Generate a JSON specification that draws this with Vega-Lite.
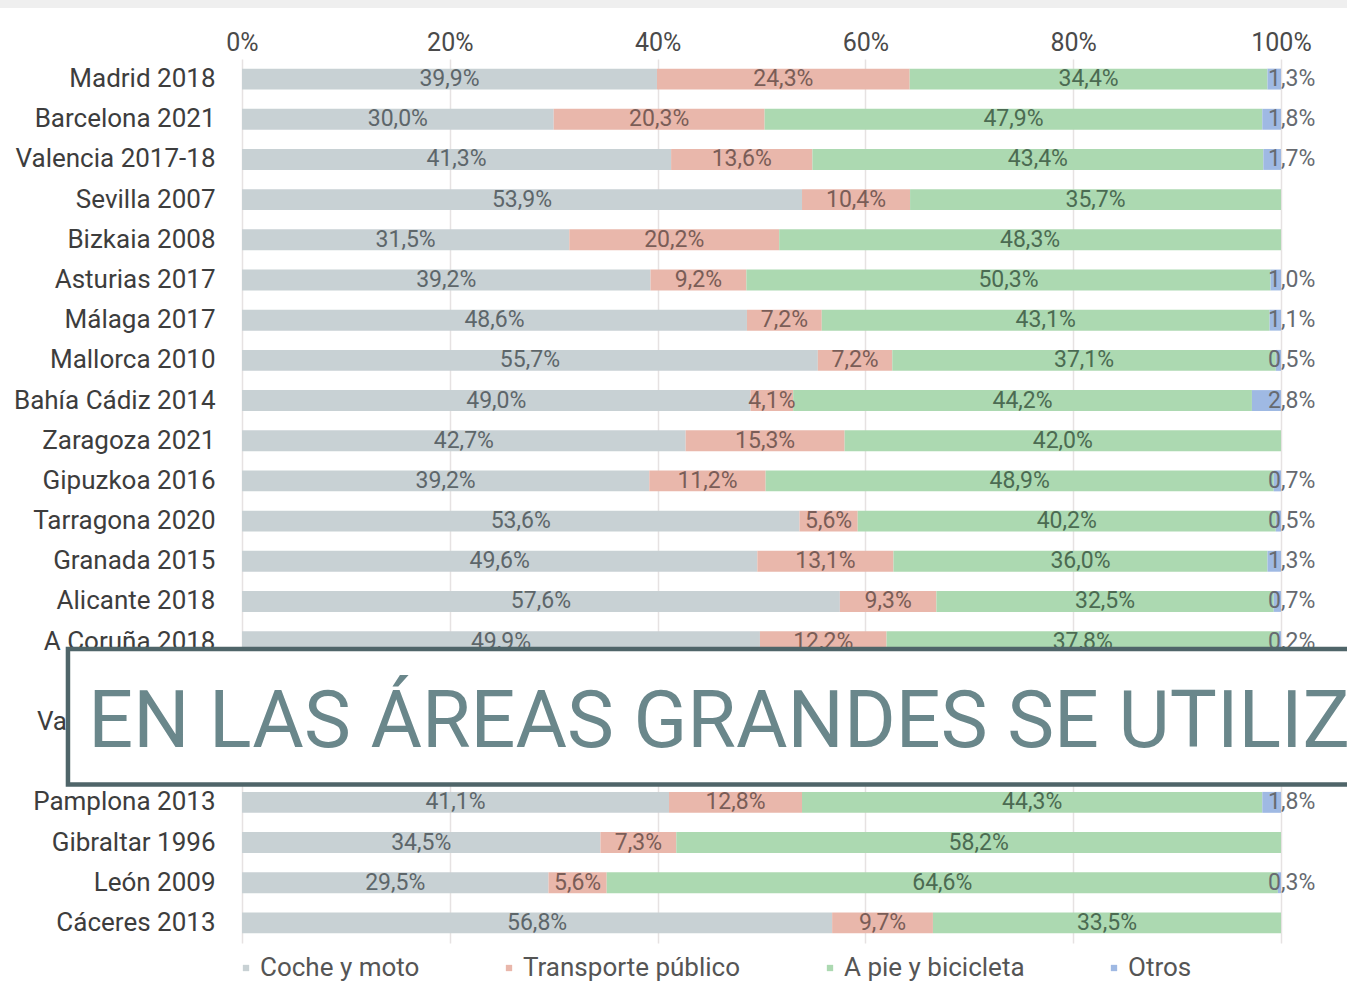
{
  "$schema": "https://vega.github.io/schema/vega-lite/v6.json",
  "autosize": "none",
  "width": 1039,
  "height": 884,
  "padding": {"left": 242, "top": 59, "right": 66, "bottom": 38},
  "background": "white",
  "config": {
    "font": "Roboto",
    "view": {"stroke": null},
    "locale": {"number": {"decimal": ",", "thousands": ".", "grouping": [3], "currency": ["", " €"]}}
  },
  "datasets": {
    "viajes": [
      {"ciudad": "Madrid 2018", "modo": "Coche y moto", "orden": 1, "pct": 0.399},
      {"ciudad": "Madrid 2018", "modo": "Transporte público", "orden": 2, "pct": 0.243},
      {"ciudad": "Madrid 2018", "modo": "A pie y bicicleta", "orden": 3, "pct": 0.344},
      {"ciudad": "Madrid 2018", "modo": "Otros", "orden": 4, "pct": 0.013},
      {"ciudad": "Barcelona 2021", "modo": "Coche y moto", "orden": 1, "pct": 0.300},
      {"ciudad": "Barcelona 2021", "modo": "Transporte público", "orden": 2, "pct": 0.203},
      {"ciudad": "Barcelona 2021", "modo": "A pie y bicicleta", "orden": 3, "pct": 0.479},
      {"ciudad": "Barcelona 2021", "modo": "Otros", "orden": 4, "pct": 0.018},
      {"ciudad": "Valencia 2017-18", "modo": "Coche y moto", "orden": 1, "pct": 0.413},
      {"ciudad": "Valencia 2017-18", "modo": "Transporte público", "orden": 2, "pct": 0.136},
      {"ciudad": "Valencia 2017-18", "modo": "A pie y bicicleta", "orden": 3, "pct": 0.434},
      {"ciudad": "Valencia 2017-18", "modo": "Otros", "orden": 4, "pct": 0.017},
      {"ciudad": "Sevilla 2007", "modo": "Coche y moto", "orden": 1, "pct": 0.539},
      {"ciudad": "Sevilla 2007", "modo": "Transporte público", "orden": 2, "pct": 0.104},
      {"ciudad": "Sevilla 2007", "modo": "A pie y bicicleta", "orden": 3, "pct": 0.357},
      {"ciudad": "Bizkaia 2008", "modo": "Coche y moto", "orden": 1, "pct": 0.315},
      {"ciudad": "Bizkaia 2008", "modo": "Transporte público", "orden": 2, "pct": 0.202},
      {"ciudad": "Bizkaia 2008", "modo": "A pie y bicicleta", "orden": 3, "pct": 0.483},
      {"ciudad": "Asturias 2017", "modo": "Coche y moto", "orden": 1, "pct": 0.392},
      {"ciudad": "Asturias 2017", "modo": "Transporte público", "orden": 2, "pct": 0.092},
      {"ciudad": "Asturias 2017", "modo": "A pie y bicicleta", "orden": 3, "pct": 0.503},
      {"ciudad": "Asturias 2017", "modo": "Otros", "orden": 4, "pct": 0.010},
      {"ciudad": "Málaga 2017", "modo": "Coche y moto", "orden": 1, "pct": 0.486},
      {"ciudad": "Málaga 2017", "modo": "Transporte público", "orden": 2, "pct": 0.072},
      {"ciudad": "Málaga 2017", "modo": "A pie y bicicleta", "orden": 3, "pct": 0.431},
      {"ciudad": "Málaga 2017", "modo": "Otros", "orden": 4, "pct": 0.011},
      {"ciudad": "Mallorca 2010", "modo": "Coche y moto", "orden": 1, "pct": 0.557},
      {"ciudad": "Mallorca 2010", "modo": "Transporte público", "orden": 2, "pct": 0.072},
      {"ciudad": "Mallorca 2010", "modo": "A pie y bicicleta", "orden": 3, "pct": 0.371},
      {"ciudad": "Mallorca 2010", "modo": "Otros", "orden": 4, "pct": 0.005},
      {"ciudad": "Bahía Cádiz 2014", "modo": "Coche y moto", "orden": 1, "pct": 0.490},
      {"ciudad": "Bahía Cádiz 2014", "modo": "Transporte público", "orden": 2, "pct": 0.041},
      {"ciudad": "Bahía Cádiz 2014", "modo": "A pie y bicicleta", "orden": 3, "pct": 0.442},
      {"ciudad": "Bahía Cádiz 2014", "modo": "Otros", "orden": 4, "pct": 0.028},
      {"ciudad": "Zaragoza 2021", "modo": "Coche y moto", "orden": 1, "pct": 0.427},
      {"ciudad": "Zaragoza 2021", "modo": "Transporte público", "orden": 2, "pct": 0.153},
      {"ciudad": "Zaragoza 2021", "modo": "A pie y bicicleta", "orden": 3, "pct": 0.420},
      {"ciudad": "Gipuzkoa 2016", "modo": "Coche y moto", "orden": 1, "pct": 0.392},
      {"ciudad": "Gipuzkoa 2016", "modo": "Transporte público", "orden": 2, "pct": 0.112},
      {"ciudad": "Gipuzkoa 2016", "modo": "A pie y bicicleta", "orden": 3, "pct": 0.489},
      {"ciudad": "Gipuzkoa 2016", "modo": "Otros", "orden": 4, "pct": 0.007},
      {"ciudad": "Tarragona 2020", "modo": "Coche y moto", "orden": 1, "pct": 0.536},
      {"ciudad": "Tarragona 2020", "modo": "Transporte público", "orden": 2, "pct": 0.056},
      {"ciudad": "Tarragona 2020", "modo": "A pie y bicicleta", "orden": 3, "pct": 0.402},
      {"ciudad": "Tarragona 2020", "modo": "Otros", "orden": 4, "pct": 0.005},
      {"ciudad": "Granada 2015", "modo": "Coche y moto", "orden": 1, "pct": 0.496},
      {"ciudad": "Granada 2015", "modo": "Transporte público", "orden": 2, "pct": 0.131},
      {"ciudad": "Granada 2015", "modo": "A pie y bicicleta", "orden": 3, "pct": 0.360},
      {"ciudad": "Granada 2015", "modo": "Otros", "orden": 4, "pct": 0.013},
      {"ciudad": "Alicante 2018", "modo": "Coche y moto", "orden": 1, "pct": 0.576},
      {"ciudad": "Alicante 2018", "modo": "Transporte público", "orden": 2, "pct": 0.093},
      {"ciudad": "Alicante 2018", "modo": "A pie y bicicleta", "orden": 3, "pct": 0.325},
      {"ciudad": "Alicante 2018", "modo": "Otros", "orden": 4, "pct": 0.007},
      {"ciudad": "A Coruña 2018", "modo": "Coche y moto", "orden": 1, "pct": 0.499},
      {"ciudad": "A Coruña 2018", "modo": "Transporte público", "orden": 2, "pct": 0.122},
      {"ciudad": "A Coruña 2018", "modo": "A pie y bicicleta", "orden": 3, "pct": 0.378},
      {"ciudad": "A Coruña 2018", "modo": "Otros", "orden": 4, "pct": 0.002},
      {"ciudad": "Pamplona 2013", "modo": "Coche y moto", "orden": 1, "pct": 0.411},
      {"ciudad": "Pamplona 2013", "modo": "Transporte público", "orden": 2, "pct": 0.128},
      {"ciudad": "Pamplona 2013", "modo": "A pie y bicicleta", "orden": 3, "pct": 0.443},
      {"ciudad": "Pamplona 2013", "modo": "Otros", "orden": 4, "pct": 0.018},
      {"ciudad": "Gibraltar 1996", "modo": "Coche y moto", "orden": 1, "pct": 0.345},
      {"ciudad": "Gibraltar 1996", "modo": "Transporte público", "orden": 2, "pct": 0.073},
      {"ciudad": "Gibraltar 1996", "modo": "A pie y bicicleta", "orden": 3, "pct": 0.582},
      {"ciudad": "León 2009", "modo": "Coche y moto", "orden": 1, "pct": 0.295},
      {"ciudad": "León 2009", "modo": "Transporte público", "orden": 2, "pct": 0.056},
      {"ciudad": "León 2009", "modo": "A pie y bicicleta", "orden": 3, "pct": 0.646},
      {"ciudad": "León 2009", "modo": "Otros", "orden": 4, "pct": 0.003},
      {"ciudad": "Cáceres 2013", "modo": "Coche y moto", "orden": 1, "pct": 0.568},
      {"ciudad": "Cáceres 2013", "modo": "Transporte público", "orden": 2, "pct": 0.097},
      {"ciudad": "Cáceres 2013", "modo": "A pie y bicicleta", "orden": 3, "pct": 0.335}
    ]
  },
  "resolve": {"scale": {"y": "independent"}, "axis": {"y": "independent"}},
  "layer": [
    {
      "data": {"name": "viajes"},
      "layer": [
        {
          "mark": {"type": "bar"},
          "encoding": {
            "y": {
              "field": "ciudad", "type": "nominal", "title": null,
              "scale": {
                "domain": ["Madrid 2018", "Barcelona 2021", "Valencia 2017-18", "Sevilla 2007", "Bizkaia 2008", "Asturias 2017", "Málaga 2017", "Mallorca 2010", "Bahía Cádiz 2014", "Zaragoza 2021", "Gipuzkoa 2016", "Tarragona 2020", "Granada 2015", "Alicante 2018", "A Coruña 2018", " ", "Valladolid 2016", "  ", "Pamplona 2013", "Gibraltar 1996", "León 2009", "Cáceres 2013"],
                "paddingInner": 0.48, "paddingOuter": 0.24
              },
              "axis": {"domain": false, "ticks": false, "labelPadding": 27, "labelFontSize": 26, "labelColor": "#3d3d3d", "labelLimit": 400}
            },
            "x": {
              "field": "pct", "type": "quantitative", "stack": "normalize", "title": null,
              "scale": {"domain": [0, 1]},
              "axis": {"orient": "top", "values": [0, 0.2, 0.4, 0.6, 0.8, 1], "format": "%", "domain": false, "ticks": false, "grid": true, "gridColor": "#e6e2e2", "gridWidth": 1.5, "labelFontSize": 25, "labelColor": "#4a4a4a", "labelPadding": 4, "labelFlush": false}
            },
            "order": {"field": "orden", "type": "quantitative"},
            "color": {
              "field": "modo", "type": "nominal", "title": null,
              "scale": {
                "domain": ["Coche y moto", "Transporte público", "A pie y bicicleta", "Otros"],
                "range": ["#c8d1d4", "#e9b7ab", "#acd9b1", "#9fb9e3"]
              },
              "legend": {
                "orient": "none", "legendX": -9, "legendY": 896, "direction": "horizontal", "padding": 0,
                "symbolType": "square", "symbolSize": 40, "symbolStrokeWidth": 0,
                "labelFontSize": 26, "labelColor": "#555555", "labelOffset": 1,
                "columnPadding": 76, "gridAlign": "none", "labelLimit": 400
              }
            }
          }
        },
        {
          "mark": {"type": "text", "fontSize": 23, "baseline": "middle", "align": "center"},
          "encoding": {
            "y": {"field": "ciudad", "type": "nominal"},
            "x": {"field": "pct", "type": "quantitative", "stack": "normalize", "bandPosition": 0.5},
            "order": {"field": "orden", "type": "quantitative"},
            "detail": {"field": "modo"},
            "text": {"condition": {"test": "datum.modo === 'Otros'", "value": ""}, "field": "pct", "type": "quantitative", "format": ".1%"},
            "color": {
              "condition": [
                {"test": "datum.modo === 'Coche y moto'", "value": "#5d666a"},
                {"test": "datum.modo === 'Transporte público'", "value": "#7a5d57"}
              ],
              "value": "#4b6b52"
            }
          }
        },
        {
          "transform": [{"filter": "datum.modo === 'Otros'"}],
          "mark": {"type": "text", "fontSize": 23, "baseline": "middle", "align": "left", "dx": -13, "color": "#666a70"},
          "encoding": {
            "y": {"field": "ciudad", "type": "nominal"},
            "x": {"datum": 1},
            "text": {"field": "pct", "type": "quantitative", "format": ".1%"}
          }
        }
      ]
    },
    {
      "data": {"values": [{"titulo": "EN LAS ÁREAS GRANDES SE UTILIZA"}]},
      "layer": [
        {
          "mark": {"type": "rect", "fill": "#efefef", "clip": false},
          "encoding": {
            "x": {"datum": -0.25},
            "x2": {"datum": 1.1},
            "y": {"datum": -1.6, "type": "quantitative", "scale": {"domain": [0, 22], "reverse": true, "nice": false, "zero": false}, "axis": null},
            "y2": {"datum": -1.268}
          }
        },
        {
          "mark": {"type": "rect", "fill": "white", "stroke": "#4f6569", "strokeWidth": 4.5, "clip": false},
          "encoding": {
            "x": {"datum": -0.1675},
            "x2": {"datum": 1.1},
            "y": {"datum": 14.686, "type": "quantitative"},
            "y2": {"datum": 18.058}
          }
        },
        {
          "mark": {"type": "text", "fontSize": 79, "font": "Roboto", "align": "left", "baseline": "alphabetic", "color": "#6a878b", "clip": false},
          "encoding": {
            "x": {"datum": -0.148},
            "y": {"datum": 17.12, "type": "quantitative"},
            "text": {"field": "titulo"}
          }
        }
      ]
    }
  ]
}
